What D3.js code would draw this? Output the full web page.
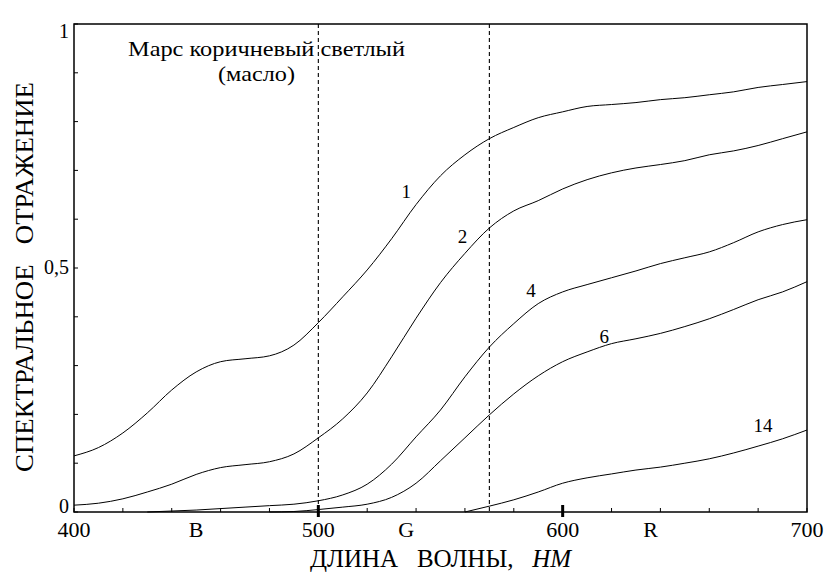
<!DOCTYPE html>
<html>
<head>
<meta charset="utf-8">
<script src="https://cdn.jsdelivr.net/npm/d3@7"></script>
<style>
  body { margin: 0; background: #fff; }
  svg { display: block; font-family: "Liberation Serif", "Times New Roman", serif; }
</style>
</head>
<body>
<svg id="chart" width="830" height="587"></svg>
<script>
// длины волн, нм
const wavelengths = [400,410,420,430,440,450,460,470,480,490,500,510,520,530,540,550,
                     560,570,580,590,600,610,620,630,640,650,660,670,680,690,700];

// кривые спектрального отражения (null = кривой нет)
const curve1 = [0.115,0.132,0.162,0.203,0.250,0.287,0.308,0.314,0.320,0.342,0.388,0.441,0.496,0.560,0.630,0.689,
                0.732,0.765,0.788,0.808,0.820,0.831,0.835,0.839,0.845,0.849,0.855,0.861,0.870,0.876,0.882];
const curve2 = [0.014,0.018,0.027,0.041,0.057,0.077,0.091,0.097,0.103,0.119,0.152,0.191,0.244,0.318,0.397,0.470,
                0.530,0.582,0.617,0.638,0.662,0.681,0.695,0.705,0.712,0.720,0.732,0.740,0.751,0.765,0.779];
const curve4 = [null,null,null,0,0.002,0.004,0.007,0.010,0.013,0.016,0.023,0.035,0.057,0.098,0.154,0.209,
                0.277,0.338,0.386,0.427,0.451,0.466,0.480,0.494,0.509,0.521,0.533,0.552,0.574,0.589,0.599];
const curve6 = [null,null,null,null,null,null,null,null,0,0.001,0.005,0.010,0.016,0.030,0.059,0.105,
                0.152,0.199,0.242,0.279,0.308,0.328,0.345,0.355,0.366,0.380,0.396,0.415,0.435,0.451,0.472];
const curve14 = [null,null,null,null,null,null,null,null,null,null,null,null,null,null,null,null,
                 0,0.012,0.025,0.041,0.059,0.070,0.078,0.086,0.092,0.100,0.109,0.121,0.135,0.150,0.168];

const seriesList = [curve1, curve2, curve4, curve6, curve14];
const seriesNames = ["1", "2", "4", "6", "14"];
// где стоят номера кривых (нм, отражение)
const labelNm = [536, 559, 587, 617, 682];
const labelVal = [0.643, 0.552, 0.441, 0.347, 0.164];

const xTicks = [400, 500, 600, 700];
const xTickLabels = ["400", "500", "600", "700"];
const bandNm = [450, 536, 636];
const bandLabels = ["B", "G", "R"];
const yTicks = [0, 0.5, 1];
const yTickLabels = ["0", "0,5", "1"];
const dashedNm = [500, 570];
const boldTickNm = [500, 600];

const svg = d3.select("#chart");
const x = d3.scaleLinear().domain([400, 700]).range([74, 807]);
const y = d3.scaleLinear().domain([0, 1]).range([512, 24]);

// пунктирные линии
svg.selectAll("line.dash").data(dashedNm).join("line")
  .attr("x1", d => x(d)).attr("x2", d => x(d))
  .attr("y1", y(1)).attr("y2", y(0))
  .attr("stroke", "#000").attr("stroke-width", 1.1).attr("stroke-dasharray", "4,3");

// кривые
const line = d3.line()
  .defined(d => d[1] != null)
  .x(d => x(d[0])).y(d => y(d[1]))
  .curve(d3.curveMonotoneX);

svg.selectAll("path.curve").data(seriesList).join("path")
  .attr("fill", "none").attr("stroke", "#000").attr("stroke-width", 1)
  .attr("d", s => line(wavelengths.map((w, i) => [w, s[i]])));

// рамка
svg.append("rect")
  .attr("x", x(400)).attr("y", y(1))
  .attr("width", x(700) - x(400)).attr("height", y(0) - y(1))
  .attr("fill", "none").attr("stroke", "#000").attr("stroke-width", 1.5);

// мелкие засечки внутрь
svg.selectAll("line.xt").data(d3.range(400, 701, 20)).join("line")
  .attr("x1", d => x(d)).attr("x2", d => x(d))
  .attr("y1", y(0)).attr("y2", y(0) - 4)
  .attr("stroke", "#000").attr("stroke-width", 1);
svg.selectAll("line.yt").data(d3.range(0, 1.001, 0.1)).join("line")
  .attr("x1", x(400)).attr("x2", x(400) + 4)
  .attr("y1", d => y(d)).attr("y2", d => y(d))
  .attr("stroke", "#000").attr("stroke-width", 1);

// жирные засечки
svg.selectAll("line.bold").data(boldTickNm).join("line")
  .attr("x1", d => x(d)).attr("x2", d => x(d))
  .attr("y1", y(0) - 7).attr("y2", y(0) + 5)
  .attr("stroke", "#000").attr("stroke-width", 3);

// подписи оси X
svg.selectAll("text.xl").data(xTicks).join("text")
  .attr("x", d => x(d)).attr("y", 537)
  .attr("text-anchor", "middle").attr("font-size", 22)
  .text((d, i) => xTickLabels[i]);
svg.selectAll("text.bl").data(bandNm).join("text")
  .attr("x", d => x(d)).attr("y", 537)
  .attr("text-anchor", "middle").attr("font-size", 22)
  .text((d, i) => bandLabels[i]);

// подписи оси Y
svg.selectAll("text.yl").data(yTicks).join("text")
  .attr("x", 69)
  .attr("y", d => d === 1 ? y(d) + 14 : d === 0 ? y(d) + 1 : y(d) + 6)
  .attr("text-anchor", "end").attr("font-size", 20)
  .text((d, i) => yTickLabels[i]);

// номера кривых
svg.selectAll("text.cl").data(seriesNames).join("text")
  .attr("x", (d, i) => x(labelNm[i])).attr("y", (d, i) => y(labelVal[i]))
  .attr("text-anchor", "middle").attr("font-size", 19)
  .text(d => d);

// заголовок
svg.append("text").attr("x", 128).attr("y", 56)
  .attr("font-size", 21)
  .attr("textLength", 277).attr("lengthAdjust", "spacingAndGlyphs")
  .text("Марс коричневый светлый");
svg.append("text").attr("x", 218).attr("y", 81)
  .attr("font-size", 21)
  .attr("textLength", 77).attr("lengthAdjust", "spacingAndGlyphs")
  .text("(масло)");

// названия осей
const xt = svg.append("text").attr("x", 310).attr("y", 567).attr("font-size", 25)
  .attr("xml:space", "preserve");
xt.append("tspan").text("ДЛИНА   ВОЛНЫ,   ");
xt.append("tspan").attr("font-style", "italic").text("НМ");

svg.append("text")
  .attr("transform", "translate(33,472) rotate(-90)")
  .attr("font-size", 25).attr("xml:space", "preserve")
  .attr("textLength", 390).attr("lengthAdjust", "spacingAndGlyphs")
  .text("СПЕКТРАЛЬНОЕ   ОТРАЖЕНИЕ");
</script>
</body>
</html>
